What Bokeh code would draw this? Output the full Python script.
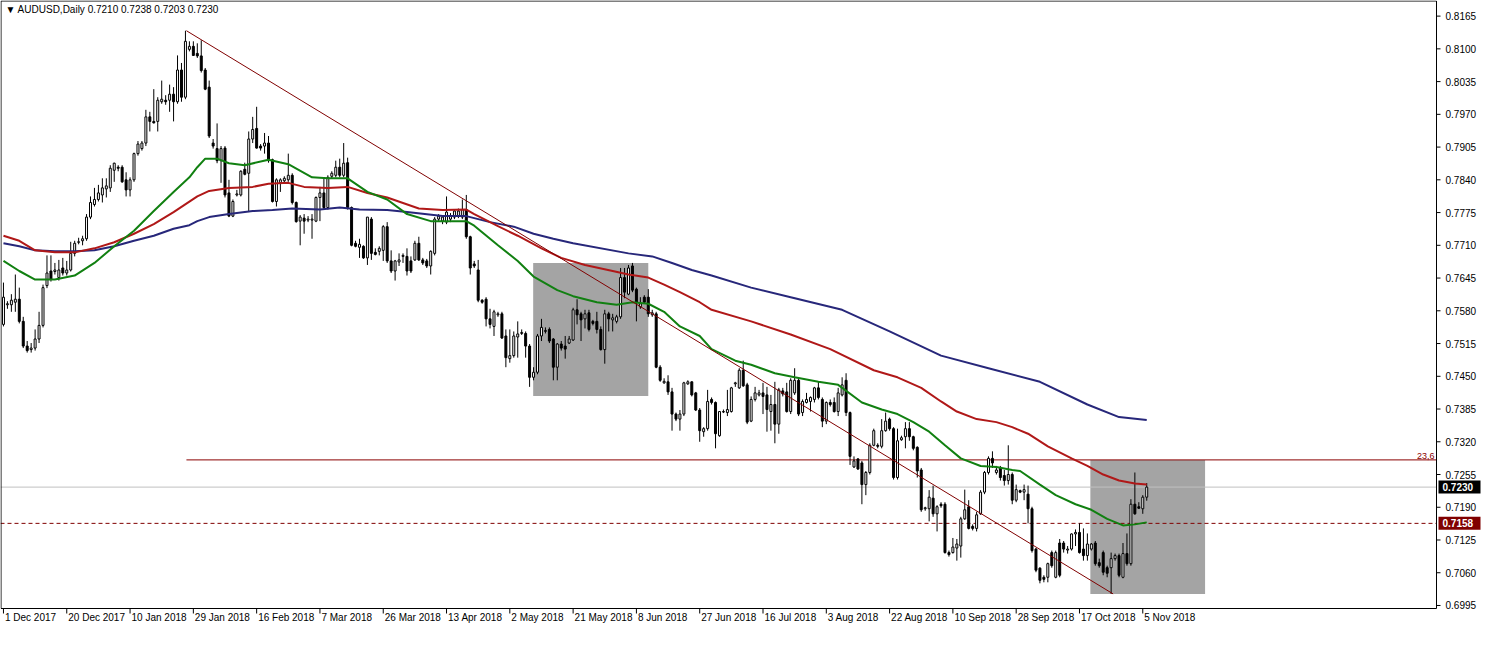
from bokeh.plotting import figure
from bokeh.models import Range1d, ColumnDataSource
from bokeh.core.properties import value
from bokeh.embed import file_html
from bokeh.resources import INLINE

# ---------------- data (AUDUSD daily) ----------------
opens = [0.7553,0.7592,0.7592,0.7597,0.7603,0.7559,0.7510,0.7503,0.7506,0.7524,
0.7551,0.7630,0.7659,0.7658,0.7646,0.7665,0.7655,0.7661,0.7694,0.7716,
0.7719,0.7723,0.7766,0.7791,0.7801,0.7810,0.7822,0.7824,0.7859,0.7865,
0.7865,0.7840,0.7820,0.7840,0.7892,0.7902,0.7913,0.7965,0.7956,0.7956,
0.7995,0.7998,0.7998,0.8010,0.7995,0.8058,0.8004,0.8099,0.8105,0.8091,
0.8086,0.8058,0.8024,0.7913,0.7902,0.7878,0.7903,0.7814,0.7768,0.7810,
0.7810,0.7861,0.7853,0.7921,0.7942,0.7907,0.7907,0.7913,0.7880,0.7797,
0.7834,0.7838,0.7840,0.7849,0.7795,0.7758,0.7764,0.7760,0.7760,0.7758,
0.7805,0.7814,0.7785,0.7847,0.7849,0.7865,0.7849,0.7874,0.7785,0.7714,
0.7706,0.7708,0.7685,0.7762,0.7696,0.7698,0.7700,0.7747,0.7679,0.7659,
0.7677,0.7688,0.7688,0.7679,0.7681,0.7714,0.7681,0.7679,0.7669,0.7694,
0.7762,0.7758,0.7756,0.7762,0.7766,0.7768,0.7766,0.7781,0.7727,0.7673,
0.7661,0.7601,0.7603,0.7564,0.7549,0.7572,0.7574,0.7530,0.7485,0.7491,
0.7528,0.7535,0.7535,0.7510,0.7448,0.7458,0.7530,0.7539,0.7543,0.7524,
0.7468,0.7514,0.7510,0.7516,0.7522,0.7582,0.7574,0.7564,0.7576,0.7559,
0.7559,0.7543,0.7503,0.7574,0.7562,0.7559,0.7568,0.7646,0.7613,0.7669,
0.7623,0.7588,0.7607,0.7607,0.7572,0.7574,0.7468,0.7437,0.7439,0.7419,
0.7375,0.7365,0.7375,0.7435,0.7439,0.7417,0.7383,0.7340,0.7346,0.7404,
0.7398,0.7332,0.7379,0.7378,0.7380,0.7435,0.7427,0.7462,0.7433,0.7361,
0.7404,0.7413,0.7417,0.7413,0.7380,0.7394,0.7355,0.7421,0.7419,0.7380,
0.7417,0.7442,0.7378,0.7398,0.7400,0.7404,0.7427,0.7404,0.7361,0.7398,
0.7398,0.7380,0.7413,0.7442,0.7378,0.7270,0.7286,0.7278,0.7235,0.7259,
0.7313,0.7313,0.7311,0.7342,0.7365,0.7346,0.7249,0.7324,0.7330,0.7346,
0.7330,0.7309,0.7264,0.7187,0.7187,0.7208,0.7177,0.7196,0.7196,0.7100,
0.7100,0.7109,0.7113,0.7167,0.7191,0.7152,0.7148,0.7177,0.7220,0.7259,
0.7287,0.7259,0.7268,0.7253,0.7243,0.7255,0.7204,0.7223,0.7220,0.7216,
0.7187,0.7107,0.7069,0.7051,0.7051,0.7100,0.7051,0.7119,0.7119,0.7105,
0.7107,0.7137,0.7140,0.7107,0.7094,0.7107,0.7119,0.7080,0.7100,0.7070,
0.7070,0.7088,0.7094,0.7051,0.7098,0.7078,0.7196,0.7191,0.7187,0.7210]

highs = [0.7636,0.7599,0.7613,0.7652,0.7626,0.7568,0.7520,0.7516,0.7543,0.7578,
0.7632,0.7690,0.7690,0.7675,0.7681,0.7685,0.7679,0.7717,0.7719,0.7725,
0.7729,0.7772,0.7807,0.7824,0.7830,0.7843,0.7843,0.7869,0.7874,0.7869,
0.7869,0.7855,0.7845,0.7894,0.7917,0.7917,0.7979,0.7975,0.8020,0.8004,
0.8037,0.8008,0.8029,0.8024,0.8087,0.8072,0.8136,0.8115,0.8115,0.8111,
0.8117,0.8062,0.8037,0.7921,0.7952,0.7907,0.7907,0.7840,0.7801,0.7820,
0.7859,0.7874,0.7936,0.7965,0.7985,0.7911,0.7933,0.7927,0.7882,0.7843,
0.7843,0.7847,0.7892,0.7853,0.7797,0.7770,0.7772,0.7768,0.7772,0.7807,
0.7826,0.7843,0.7849,0.7857,0.7878,0.7882,0.7913,0.7884,0.7787,0.7719,
0.7723,0.7710,0.7766,0.7766,0.7704,0.7708,0.7750,0.7756,0.7700,0.7681,
0.7694,0.7694,0.7704,0.7688,0.7719,0.7727,0.7685,0.7683,0.7700,0.7766,
0.7772,0.7770,0.7807,0.7774,0.7781,0.7783,0.7801,0.7810,0.7729,0.7679,
0.7681,0.7603,0.7607,0.7584,0.7582,0.7578,0.7578,0.7543,0.7543,0.7539,
0.7559,0.7543,0.7539,0.7514,0.7468,0.7534,0.7564,0.7547,0.7547,0.7526,
0.7516,0.7520,0.7530,0.7530,0.7586,0.7603,0.7578,0.7582,0.7582,0.7562,
0.7578,0.7549,0.7582,0.7578,0.7574,0.7572,0.7665,0.7665,0.7671,0.7675,
0.7626,0.7607,0.7611,0.7623,0.7582,0.7578,0.7472,0.7446,0.7452,0.7427,
0.7378,0.7383,0.7439,0.7442,0.7440,0.7419,0.7387,0.7349,0.7423,0.7408,
0.7400,0.7381,0.7384,0.7423,0.7429,0.7439,0.7466,0.7481,0.7437,0.7410,
0.7429,0.7423,0.7437,0.7429,0.7413,0.7439,0.7427,0.7427,0.7437,0.7446,
0.7466,0.7446,0.7404,0.7417,0.7410,0.7429,0.7439,0.7408,0.7400,0.7404,
0.7408,0.7427,0.7448,0.7456,0.7380,0.7291,0.7287,0.7282,0.7262,0.7317,
0.7346,0.7317,0.7365,0.7378,0.7368,0.7349,0.7346,0.7332,0.7359,0.7359,
0.7332,0.7311,0.7268,0.7191,0.7224,0.7233,0.7194,0.7200,0.7200,0.7104,
0.7129,0.7127,0.7171,0.7225,0.7204,0.7156,0.7181,0.7224,0.7262,0.7291,
0.7301,0.7272,0.7272,0.7264,0.7313,0.7259,0.7235,0.7225,0.7235,0.7233,
0.7191,0.7109,0.7071,0.7055,0.7080,0.7104,0.7104,0.7127,0.7123,0.7113,
0.7138,0.7146,0.7158,0.7148,0.7138,0.7119,0.7123,0.7088,0.7104,0.7074,
0.7100,0.7098,0.7098,0.7119,0.7138,0.7206,0.7259,0.7200,0.7214,0.7238]

lows = [0.7549,0.7584,0.7578,0.7578,0.7555,0.7506,0.7497,0.7497,0.7501,0.7516,
0.7547,0.7625,0.7638,0.7652,0.7640,0.7650,0.7650,0.7658,0.7688,0.7712,
0.7710,0.7719,0.7762,0.7787,0.7797,0.7795,0.7805,0.7816,0.7836,0.7857,
0.7834,0.7807,0.7807,0.7836,0.7888,0.7898,0.7907,0.7936,0.7952,0.7936,
0.7991,0.7989,0.7975,0.7956,0.7991,0.7995,0.8000,0.8095,0.8086,0.8082,
0.8053,0.8018,0.7923,0.7902,0.7873,0.7834,0.7805,0.7766,0.7766,0.7807,
0.7807,0.7849,0.7776,0.7913,0.7902,0.7898,0.7892,0.7874,0.7795,0.7787,
0.7816,0.7834,0.7836,0.7791,0.7755,0.7710,0.7733,0.7756,0.7723,0.7756,
0.7758,0.7781,0.7781,0.7843,0.7845,0.7845,0.7845,0.7781,0.7708,0.7706,
0.7685,0.7683,0.7671,0.7681,0.7690,0.7690,0.7679,0.7675,0.7655,0.7640,
0.7669,0.7675,0.7650,0.7655,0.7679,0.7679,0.7671,0.7665,0.7652,0.7690,
0.7758,0.7752,0.7752,0.7756,0.7762,0.7764,0.7762,0.7723,0.7652,0.7665,
0.7597,0.7594,0.7549,0.7545,0.7530,0.7568,0.7524,0.7468,0.7477,0.7487,
0.7487,0.7532,0.7487,0.7429,0.7442,0.7454,0.7520,0.7535,0.7516,0.7442,
0.7442,0.7501,0.7485,0.7514,0.7520,0.7553,0.7520,0.7545,0.7539,0.7551,
0.7535,0.7501,0.7475,0.7539,0.7539,0.7555,0.7564,0.7605,0.7611,0.7617,
0.7559,0.7584,0.7595,0.7568,0.7568,0.7466,0.7439,0.7435,0.7413,0.7342,
0.7361,0.7342,0.7371,0.7433,0.7410,0.7381,0.7320,0.7330,0.7342,0.7394,
0.7307,0.7330,0.7377,0.7371,0.7378,0.7429,0.7425,0.7429,0.7355,0.7359,
0.7400,0.7410,0.7375,0.7340,0.7342,0.7317,0.7336,0.7410,0.7378,0.7375,
0.7413,0.7371,0.7371,0.7396,0.7380,0.7398,0.7404,0.7349,0.7355,0.7390,
0.7378,0.7371,0.7410,0.7371,0.7274,0.7268,0.7264,0.7196,0.7214,0.7255,
0.7311,0.7307,0.7307,0.7340,0.7342,0.7245,0.7245,0.7322,0.7307,0.7322,
0.7303,0.7249,0.7181,0.7183,0.7162,0.7171,0.7142,0.7189,0.7098,0.7092,
0.7098,0.7084,0.7090,0.7165,0.7146,0.7144,0.7142,0.7175,0.7216,0.7255,
0.7268,0.7255,0.7243,0.7233,0.7235,0.7196,0.7200,0.7218,0.7204,0.7158,
0.7100,0.7061,0.7039,0.7041,0.7041,0.7070,0.7049,0.7051,0.7100,0.7098,
0.7104,0.7113,0.7098,0.7084,0.7084,0.7104,0.7074,0.7070,0.7055,0.7051,
0.7018,0.7084,0.7051,0.7049,0.7074,0.7074,0.7175,0.7187,0.7177,0.7203]

closes = [0.7607,0.7594,0.7601,0.7603,0.7559,0.7510,0.7501,0.7506,0.7524,0.7551,
0.7626,0.7655,0.7642,0.7661,0.7661,0.7655,0.7661,0.7694,0.7714,0.7717,
0.7723,0.7766,0.7795,0.7801,0.7814,0.7824,0.7828,0.7863,0.7873,0.7863,
0.7836,0.7820,0.7840,0.7892,0.7911,0.7913,0.7965,0.7956,0.7953,0.7998,
0.8000,0.7995,0.8010,0.7995,0.8058,0.8004,0.8115,0.8105,0.8087,0.8086,
0.8057,0.8020,0.7927,0.7907,0.7878,0.7902,0.7810,0.7768,0.7797,0.7812,
0.7857,0.7851,0.7921,0.7940,0.7903,0.7903,0.7913,0.7878,0.7797,0.7840,
0.7840,0.7843,0.7849,0.7795,0.7757,0.7766,0.7758,0.7762,0.7762,0.7805,
0.7814,0.7785,0.7845,0.7853,0.7865,0.7849,0.7873,0.7785,0.7710,0.7708,
0.7712,0.7685,0.7766,0.7694,0.7692,0.7704,0.7747,0.7679,0.7659,0.7679,
0.7681,0.7690,0.7659,0.7659,0.7714,0.7681,0.7675,0.7669,0.7698,0.7762,
0.7768,0.7766,0.7776,0.7768,0.7778,0.7778,0.7781,0.7727,0.7665,0.7669,
0.7601,0.7597,0.7564,0.7553,0.7578,0.7574,0.7526,0.7487,0.7491,0.7530,
0.7534,0.7537,0.7510,0.7448,0.7458,0.7530,0.7547,0.7541,0.7520,0.7468,
0.7514,0.7506,0.7504,0.7524,0.7582,0.7572,0.7562,0.7574,0.7543,0.7555,
0.7543,0.7503,0.7574,0.7564,0.7566,0.7568,0.7646,0.7617,0.7665,0.7621,
0.7597,0.7594,0.7597,0.7574,0.7576,0.7468,0.7442,0.7440,0.7419,0.7375,
0.7365,0.7375,0.7437,0.7439,0.7413,0.7383,0.7342,0.7346,0.7400,0.7398,
0.7336,0.7380,0.7380,0.7384,0.7427,0.7437,0.7462,0.7431,0.7359,0.7404,
0.7417,0.7417,0.7410,0.7384,0.7394,0.7355,0.7423,0.7415,0.7380,0.7442,
0.7442,0.7375,0.7400,0.7404,0.7408,0.7427,0.7408,0.7361,0.7398,0.7394,
0.7380,0.7417,0.7433,0.7378,0.7291,0.7282,0.7266,0.7235,0.7259,0.7313,
0.7342,0.7311,0.7342,0.7361,0.7346,0.7249,0.7322,0.7328,0.7346,0.7330,
0.7307,0.7262,0.7185,0.7189,0.7210,0.7177,0.7191,0.7193,0.7100,0.7096,
0.7111,0.7117,0.7167,0.7185,0.7148,0.7148,0.7175,0.7220,0.7259,0.7287,
0.7278,0.7264,0.7249,0.7243,0.7255,0.7204,0.7225,0.7220,0.7225,0.7187,
0.7104,0.7065,0.7045,0.7047,0.7078,0.7074,0.7100,0.7055,0.7107,0.7107,
0.7137,0.7140,0.7100,0.7094,0.7117,0.7117,0.7078,0.7074,0.7061,0.7059,
0.7088,0.7094,0.7055,0.7098,0.7078,0.7196,0.7177,0.7188,0.7210,0.7230]

# moving averages, sampled at bar indices
green_idx = [0,4,8,13,18,23,28,33,38,43,47,49,51,54,57,61,67,72,78,82,87,92,97,102,108,
             117,119,125,130,134,140,144,150,155,159,163,167,171,176,179,185,189,195,200,206,
             211,217,222,226,230,234,238,242,247,251,255,257,262,266,271,275,279,283,286,289]
green_val = [0.7679,0.7659,0.7642,0.7642,0.7650,0.7675,0.7708,0.7739,0.7778,0.7816,
             0.7845,0.7865,0.7882,0.7882,0.7873,0.7869,0.7880,0.7871,0.7845,0.7843,
             0.7843,0.7816,0.7801,0.7772,0.7758,0.7758,0.7749,0.7710,0.7679,0.7648,
             0.7621,0.7609,0.7597,0.7592,0.7597,0.7594,0.7578,0.7549,0.7530,0.7504,
             0.7481,0.7473,0.7456,0.7448,0.7439,0.7433,0.7398,0.7384,0.7375,0.7359,
             0.7340,0.7313,0.7287,0.7272,0.7270,0.7264,0.7262,0.7235,0.7214,0.7196,
             0.7185,0.7167,0.7154,0.7156,0.7160]
red_idx = [0,4,8,13,18,23,28,33,38,43,49,52,57,63,67,72,76,82,87,92,97,105,111,117,119,
           125,130,136,141,147,154,158,163,167,171,176,179,189,199,209,220,226,232,237,241,
           246,251,255,259,264,270,274,278,282,286,289]
red_val = [0.7729,0.7719,0.7700,0.7696,0.7696,0.7704,0.7716,0.7733,0.7752,0.7776,
           0.7807,0.7818,0.7824,0.7826,0.7832,0.7834,0.7826,0.7824,0.7826,0.7814,
           0.7805,0.7783,0.7780,0.7781,0.7772,0.7748,0.7729,0.7704,0.7685,0.7671,
           0.7659,0.7652,0.7646,0.7632,0.7617,0.7597,0.7582,0.7559,0.7533,0.7504,
           0.7462,0.7448,0.7427,0.7400,0.7380,0.7365,0.7359,0.7349,0.7336,0.7311,
           0.7287,0.7272,0.7255,0.7243,0.7237,0.7235]
navy_idx = [0,4,8,13,18,23,28,33,38,43,47,49,52,57,63,68,73,80,85,90,97,102,111,117,123,
            129,134,139,144,158,164,169,174,179,189,199,212,224,237,249,262,274,282,289]
navy_val = [0.7714,0.7708,0.7700,0.7698,0.7698,0.7700,0.7708,0.7719,0.7729,0.7743,
            0.7750,0.7758,0.7766,0.7772,0.7778,0.7780,0.7783,0.7781,0.7785,0.7781,
            0.7780,0.7776,0.7768,0.7768,0.7756,0.7747,0.7733,0.7723,0.7714,0.7694,
            0.7688,0.7675,0.7661,0.7650,0.7626,0.7607,0.7582,0.7539,0.7491,0.7466,
            0.7439,0.7394,0.7369,0.7363]

date_tick_bars = [0,16,32,48,64,80,96,112,128,144,160,176,192,208,224,240,256,272,288]
date_labels = ["1 Dec 2017","20 Dec 2017","10 Jan 2018","29 Jan 2018","16 Feb 2018",
               "7 Mar 2018","26 Mar 2018","13 Apr 2018","2 May 2018","21 May 2018",
               "8 Jun 2018","27 Jun 2018","16 Jul 2018","3 Aug 2018","22 Aug 2018",
               "10 Sep 2018","28 Sep 2018","17 Oct 2018","5 Nov 2018"]
price_tick_labels = ["0.6995","0.7060","0.7125","0.7190","0.7255","0.7320","0.7385",
                     "0.7450","0.7515","0.7580","0.7645","0.7710","0.7775","0.7840",
                     "0.7905","0.7970","0.8035","0.8100","0.8165"]

# drawn objects
trend_x = [46.25, 280.5]
trend_y = [0.8136, 0.7018]
fib_start = 46.25
fib_level = 0.7284
fib_text = "23,6"
box_left = [133.9, 274.75]
box_right = [163.0, 303.75]
box_top = [0.7675, 0.7284]
box_bottom = [0.7411, 0.7018]
bid_price = 0.7230
bid_text = "0.7230"
mark_price = 0.7158
mark_text = "0.7158"
header_text = "\u25bc AUDUSD,Daily  0.7210 0.7238 0.7203 0.7230"

# ---------------- layout ----------------
W, H = 1481, 630          # whole figure
CW, CH = 1436, 608        # chart pane in pixels (rest: price scale and time scale)
X0, X1 = -0.75, 362.25    # bars shown in the chart pane
Y0, Y1 = 0.6989, 0.8196   # prices shown in the chart pane
PX = (X1 - X0) / CW       # one pixel in bar units
PY = (Y1 - Y0) / CH       # one pixel in price units
XR = X0 + W * PX
YB = Y1 - H * PY
FONT = "Liberation Sans"

p = figure(width=W, height=H, output_backend="svg", toolbar_location=None,
           x_range=Range1d(X0, XR), y_range=Range1d(YB, Y1),
           x_axis_type=None, y_axis_type=None,
           min_border_left=0, min_border_right=0, min_border_top=0, min_border_bottom=0)
p.xgrid.visible = False
p.ygrid.visible = False
p.outline_line_color = None
p.background_fill_color = "white"
p.border_fill_color = "white"

# background rectangles
p.quad(left=box_left, right=box_right, top=box_top, bottom=box_bottom,
       fill_color="#A4A4A4", line_color=None)

# horizontal levels
p.segment(x0=[fib_start], x1=[X1], y0=[fib_level], y1=[fib_level],
          line_color="#8B0000", line_width=1)
p.segment(x0=[X0], x1=[X1], y0=[bid_price], y1=[bid_price],
          line_color="#C0C0C0", line_width=1)
p.segment(x0=[X0], x1=[X1], y0=[mark_price], y1=[mark_price],
          line_color="#800000", line_width=1, line_dash="4 3")

# candles
n = len(closes)
src = ColumnDataSource(dict(
    x=list(range(n)),
    top=[max(o, c) for o, c in zip(opens, closes)],
    bottom=[min(o, c) for o, c in zip(opens, closes)],
    high=highs, low=lows,
    fill=["white" if c >= o else "black" for o, c in zip(opens, closes)],
))
p.segment(x0="x", y0="low", x1="x", y1="high", source=src, line_color="black", line_width=1)
p.vbar(x="x", width=0.5, top="top", bottom="bottom", fill_color="fill",
       line_color="black", line_width=1, source=src)

# moving averages
p.line(navy_idx, navy_val, line_color="#27277A", line_width=2)
p.line(red_idx, red_val, line_color="#B01818", line_width=2)
p.line(green_idx, green_val, line_color="#118011", line_width=2)

# trend line
p.line(trend_x, trend_y, line_color="#800000", line_width=1)

# chart pane frame
p.quad(left=[X0 + 0.5 * PX], right=[X1], top=[Y1 - 0.5 * PY], bottom=[Y0],
       fill_color=None, line_color="black", line_width=1)

# price scale: ticks, labels
ptick = [float(s) for s in price_tick_labels]
p.segment(x0=[X1] * len(ptick), x1=[X1 + 4 * PX] * len(ptick), y0=ptick, y1=ptick,
          line_color="black", line_width=1)
p.text(x=[X1 + 9 * PX] * len(ptick), y=ptick, text=price_tick_labels,
       text_align="left", text_baseline="middle", text_color="black",
       text_font=value(FONT), text_font_size="10px")

# time scale: ticks, labels
p.segment(x0=date_tick_bars, x1=date_tick_bars, y0=[Y0] * len(date_tick_bars),
          y1=[Y0 - 5 * PY] * len(date_tick_bars), line_color="black", line_width=1)
p.text(x=[b + 1.5 * PX for b in date_tick_bars], y=[Y0 - 3 * PY] * len(date_tick_bars),
       text=date_labels, text_align="left", text_baseline="top", text_color="black",
       text_font=value(FONT), text_font_size="10px")

# price markers on the scale
p.quad(left=[X1 + 2 * PX, X1 + 2 * PX], right=[X1 + 44 * PX, X1 + 44 * PX],
       top=[bid_price + 6.5 * PY, mark_price + 6.5 * PY],
       bottom=[bid_price - 6.5 * PY, mark_price - 6.5 * PY],
       fill_color=["black", "#800000"], line_color=None)
p.text(x=[X1 + 6 * PX, X1 + 6 * PX], y=[bid_price, mark_price], text=[bid_text, mark_text],
       text_align="left", text_baseline="middle", text_color="white",
       text_font=value(FONT), text_font_size="10px", text_font_style="bold")

# fibo level caption and header
p.text(x=[X1 - 2 * PX], y=[fib_level + 1 * PY], text=[fib_text], text_align="right",
       text_baseline="bottom", text_color="#8B0000", text_font=value(FONT),
       text_font_size="9px")
p.text(x=[X0 + 5 * PX], y=[Y1 - 3 * PY], text=[header_text], text_align="left",
       text_baseline="top", text_color="black", text_font=value(FONT),
       text_font_size="10px")

open("out.html", "w").write(file_html(p, INLINE))
